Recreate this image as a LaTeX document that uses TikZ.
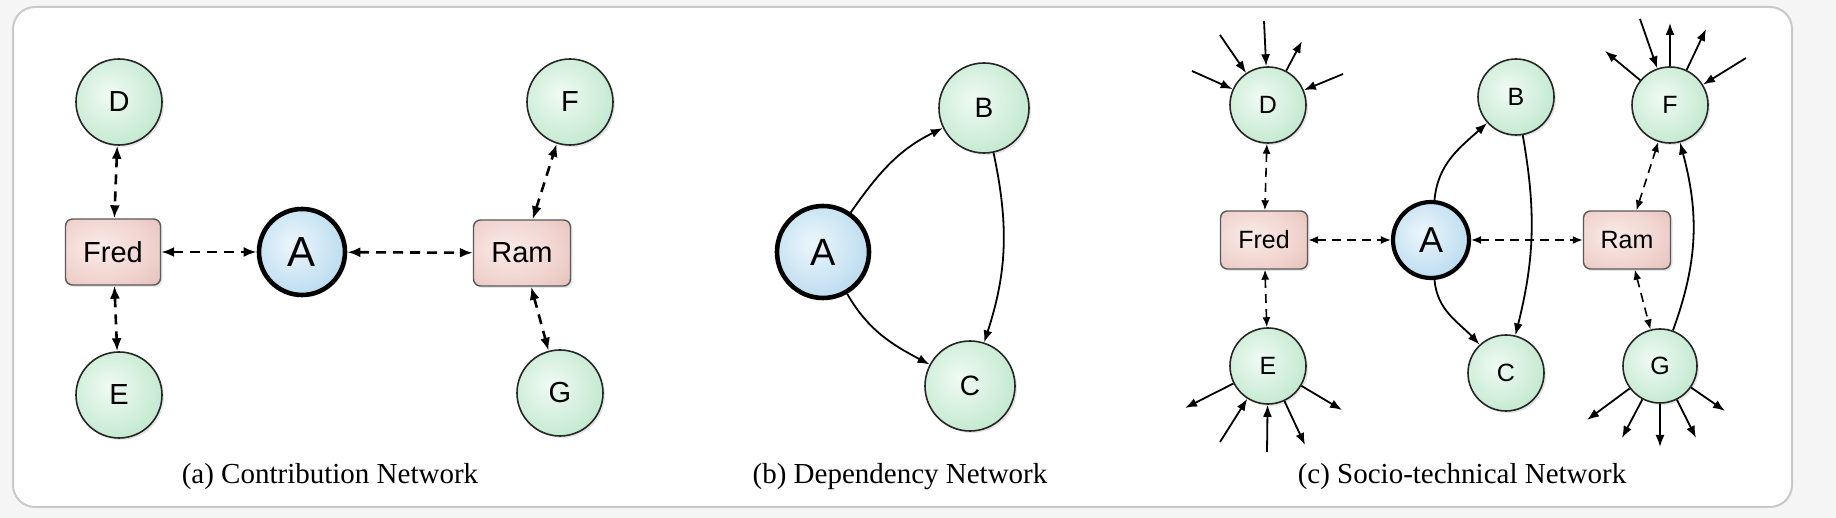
\documentclass[tikz,border=0pt]{standalone}
\usepackage{fontspec}
\setmainfont{Liberation Serif}
\setsansfont{Liberation Sans}
\usetikzlibrary{arrows.meta,shadows}

\definecolor{leafin}{HTML}{F0FAF3}
\definecolor{leafmid}{HTML}{CFEED9}
\definecolor{leafout}{HTML}{A0D9B2}
\definecolor{corein}{HTML}{ECF6FC}
\definecolor{coremid}{HTML}{C8E3F3}
\definecolor{coreout}{HTML}{94C6E3}
\definecolor{devin}{HTML}{FAEBE8}
\definecolor{devmid}{HTML}{F0D3CE}
\definecolor{devout}{HTML}{DDAEA6}
\definecolor{pagegray}{HTML}{F5F5F5}
\definecolor{framegray}{HTML}{C8C8C8}

\pgfdeclareradialshading{leafshade}{\pgfpoint{-6bp}{5bp}}{color(0bp)=(leafin); color(22bp)=(leafmid); color(52bp)=(leafout); color(80bp)=(leafout)}
\pgfdeclareradialshading{coreshade}{\pgfpoint{-6bp}{5bp}}{color(0bp)=(corein); color(22bp)=(coremid); color(52bp)=(coreout); color(80bp)=(coreout)}
\pgfdeclareradialshading{devshade}{\pgfpoint{-8bp}{4bp}}{color(0bp)=(devin); color(25bp)=(devmid); color(55bp)=(devout); color(80bp)=(devout)}

\newcommand{\nodefont}[1]{\sffamily\fontsize{#1}{#1}\selectfont}

\begin{document}
\begin{tikzpicture}[x=0.5pt, y=0.5pt,
    leaf/.style={circle, draw=black!85, line width=0.8pt, shading=leafshade,
        minimum size=#1, inner sep=0pt,
        drop shadow={opacity=0.2, shadow xshift=1pt, shadow yshift=-1pt}},
    leaf/.default=43pt,
    core/.style={circle, draw=black, line width=2.3pt, shading=coreshade,
        minimum size=#1, inner sep=0pt,
        drop shadow={opacity=0.2, shadow xshift=1pt, shadow yshift=-1pt}},
    core/.default=43pt,
    devbox/.style 2 args={rectangle, rounded corners=3.5pt, draw=black!65,
        line width=0.7pt, shading=devshade, minimum width=#1, minimum height=#2,
        inner sep=0pt,
        drop shadow={opacity=0.2, shadow xshift=1pt, shadow yshift=-1pt}},
    contrib/.style={{Latex[length=6.5pt,width=5pt]}-{Latex[length=6.5pt,width=5pt]},
        line width=1.3pt, dash pattern=on 5pt off 3.5pt},
    link/.style={{Latex[length=5pt,width=4pt]}-{Latex[length=5pt,width=4pt]},
        line width=0.8pt, dash pattern=on 4.5pt off 3pt},
    depend/.style={-{Latex[length=6pt,width=4.5pt]}, line width=0.9pt},
    caption/.style={font=\fontsize{14.5}{15}\selectfont}]

% page and frame
\fill[pagegray] (0,0) rectangle (1836,518);
\draw[framegray, fill=white, line width=1pt, rounded corners=11pt] (13,11) rectangle (1792,511);

% (a) contribution network
\begin{scope}[nodes={font=\nodefont{14.5}}]
\node[leaf] (aD) at (119,416) {D};
\node[leaf] (aE) at (119,123) {E};
\node[devbox={47.5pt}{33pt}, font=\nodefont{14.5}] (aFred) at (113,266) {Fred};
\node[core, font=\nodefont{21}] (aA) at (302,266) {A};
\node[devbox={48.5pt}{33pt}, font=\nodefont{14.5}] (aRam) at (522,265) {Ram};
\node[leaf] (aF) at (570,416) {F};
\node[leaf] (aG) at (560,125) {G};
\end{scope}
\draw[contrib] (aD) -- (aFred);
\draw[contrib] (aFred) -- (aE);
\draw[contrib] (aFred) -- (aA);
\draw[contrib] (aA) -- (aRam);
\draw[contrib] (aRam) -- (aF);
\draw[contrib] (aRam) -- (aG);
\node[caption] (acap) at (330,41) {(a) Contribution Network};

% (b) dependency network
\begin{scope}[nodes={font=\nodefont{14}}]
\node[core=46pt, font=\nodefont{19}] (bA) at (823,266) {A};
\node[leaf=45pt] (bB) at (984,410) {B};
\node[leaf=45pt] (bC) at (970,132) {C};
\end{scope}
\draw[depend] (bA) to[out=55, in=206] (bB);
\draw[depend] (bA) to[out=-60, in=152] (bC);
\draw[depend] (bB) to[out=-78, in=72] (bC);
\node[caption] (bcap) at (900,41) {(b) Dependency Network};

% (c) socio-technical network
\begin{scope}[nodes={font=\nodefont{12.5}}]
\node[leaf=38pt] (cD) at (1268,413) {D};
\node[leaf=38pt] (cE) at (1268,152) {E};
\node[devbox={43.5pt}{29pt}, font=\nodefont{12.5}] (cFred) at (1264,278) {Fred};
\node[core=38pt, line width=2.1pt, font=\nodefont{18}] (cA) at (1431,278) {A};
\node[leaf=38pt] (cB) at (1516,421) {B};
\node[leaf=38pt] (cC) at (1506,145) {C};
\node[devbox={43.5pt}{29pt}, font=\nodefont{12.5}] (cRam) at (1627,278) {Ram};
\node[leaf=38pt] (cF) at (1670,413) {F};
\node[leaf=37pt] (cG) at (1660,152) {G};
\end{scope}
\draw[link] (cD) -- (cFred);
\draw[link] (cFred) -- (cE);
\draw[link] (cFred) -- (cA);
\draw[link] (cA) -- (cRam);
\draw[link] (cRam) -- (cF);
\draw[link] (cRam) -- (cG);
\draw[depend] (cA) to[out=85, in=222] (cB);
\draw[depend] (cA) to[out=-85, in=133] (cC);
\draw[depend] (cB) to[out=-80, in=76] (cC);
\draw[depend] (cG) to[out=70, in=-75] (cF);

% outside ties
\coordinate (cD1) at (1192,447);
\coordinate (cD2) at (1220,483);
\coordinate (cD3) at (1264,497);
\coordinate (cD4) at (1302,477);
\coordinate (cD5) at (1343,444);
\draw[depend] (cD1) -- (cD);
\draw[depend] (cD2) -- (cD);
\draw[depend] (cD3) -- (cD);
\draw[depend] (cD) -- (cD4);
\draw[depend] (cD5) -- (cD);
\coordinate (cF1) at (1605,467);
\coordinate (cF2) at (1640,499);
\coordinate (cF3) at (1670,495);
\coordinate (cF4) at (1706,489);
\coordinate (cF5) at (1746,460);
\draw[depend] (cF) -- (cF1);
\draw[depend] (cF2) -- (cF);
\draw[depend] (cF) -- (cF3);
\draw[depend] (cF) -- (cF4);
\draw[depend] (cF5) -- (cF);
\coordinate (cE1) at (1185,110);
\coordinate (cE2) at (1220,76);
\coordinate (cE3) at (1267,66);
\coordinate (cE4) at (1305,73);
\coordinate (cE5) at (1342,108);
\draw[depend] (cE) -- (cE1);
\draw[depend] (cE2) -- (cE);
\draw[depend] (cE3) -- (cE);
\draw[depend] (cE) -- (cE4);
\draw[depend] (cE) -- (cE5);
\coordinate (cG1) at (1587,98);
\coordinate (cG2) at (1622,80);
\coordinate (cG3) at (1660,71);
\coordinate (cG4) at (1696,80);
\coordinate (cG5) at (1725,107);
\draw[depend] (cG) -- (cG1);
\draw[depend] (cG) -- (cG2);
\draw[depend] (cG) -- (cG3);
\draw[depend] (cG) -- (cG4);
\draw[depend] (cG) -- (cG5);
\node[caption] (ccap) at (1462,41) {(c) Socio-technical Network};
\end{tikzpicture}
\end{document}
